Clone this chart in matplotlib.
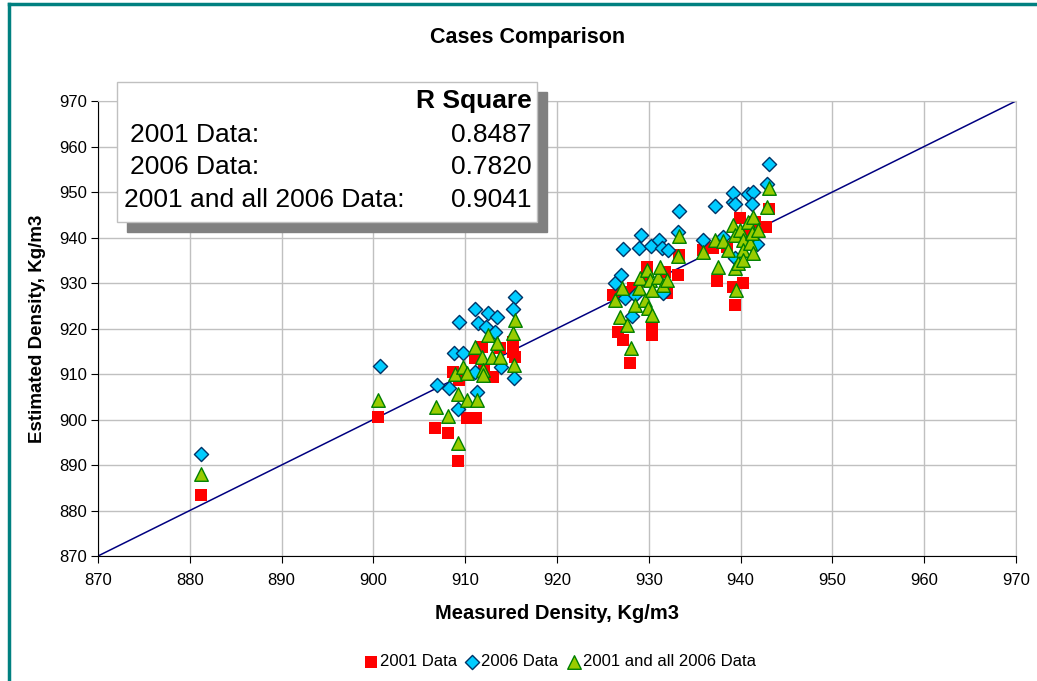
import numpy as np
from matplotlib import pyplot as plt
from matplotlib.lines import Line2D
from matplotlib.patches import Rectangle

plt.rcParams["font.family"] = ["Liberation Sans", "DejaVu Sans"]

# 2001 data (measured, estimated)
red_x = [881.2, 900.5, 906.7, 908.1, 909.2, 908.7, 909.3, 910.2, 911.2, 911.8, 911.1, 913.0,
         913.8, 915.2, 915.2, 915.4, 912.0, 926.1, 926.6, 927.2, 928.0, 930.3, 930.4, 929.8,
         931.8, 932.0, 928.3, 929.5, 927.0, 933.2, 933.3, 935.9, 937.0, 937.4, 938.5, 939.2,
         939.4, 939.9, 940.3, 940.5, 941.6, 942.8, 943.1]
red_y = [883.4, 900.5, 898.1, 897.0, 890.9, 910.4, 908.7, 900.3, 900.3, 915.9, 913.5, 909.3,
         915.7, 914.8, 917.0, 913.7, 911.0, 927.4, 919.2, 917.5, 912.4, 920.3, 918.6, 933.5,
         932.4, 927.8, 928.9, 930.5, 928.0, 931.8, 936.2, 937.3, 937.7, 930.4, 937.9, 929.1,
         925.2, 944.3, 930.0, 941.0, 943.4, 942.3, 946.3]

# 2006 data
blue_x = [881.2, 900.7, 906.9, 908.2, 909.3, 908.8, 909.8, 909.2, 911.3, 911.1, 912.5, 913.5,
          911.4, 912.3, 913.2, 915.4, 915.2, 913.9, 915.3, 911.1, 926.3, 927.0, 927.2, 928.2,
          927.4, 928.5, 928.9, 929.2, 930.2, 931.1, 931.4, 932.1, 931.5, 933.2, 933.3, 935.9,
          937.2, 938.1, 939.2, 939.2, 939.4, 939.4, 940.8, 941.4, 941.2, 941.2, 941.8, 942.9,
          943.1]
blue_y = [892.4, 911.8, 907.6, 906.9, 921.4, 914.6, 914.6, 902.3, 906.0, 924.3, 923.4, 922.5,
          921.2, 920.3, 919.2, 926.9, 924.3, 911.5, 909.1, 910.4, 930.0, 931.8, 937.5, 922.7,
          926.7, 927.4, 937.7, 940.5, 938.1, 939.5, 937.7, 937.3, 927.8, 941.2, 945.8, 939.5,
          946.9, 940.1, 947.8, 949.8, 947.4, 935.5, 949.6, 950.0, 947.4, 938.4, 938.6, 951.8,
          956.2]

# 2001 and all 2006 data
green_x = [881.2, 900.5, 906.8, 908.1, 909.2, 909.2, 908.9, 910.2, 911.3, 909.8, 910.2, 911.1,
           911.8, 911.9, 911.9, 912.5, 912.9, 913.5, 913.8, 915.2, 915.3, 915.4, 926.3, 926.9,
           927.1, 927.6, 928.1, 928.5, 928.9, 929.0, 929.6, 929.8, 929.9, 930.1, 930.3, 930.3,
           931.0, 931.2, 931.5, 932.0, 933.2, 933.3, 935.9, 937.2, 937.5, 938.1, 938.6, 939.2,
           939.4, 939.4, 939.5, 939.7, 939.9, 940.3, 940.3, 940.3, 940.8, 941.0, 941.2, 941.4,
           941.4, 941.9, 942.9, 943.1]
green_y = [888.0, 904.3, 902.7, 900.8, 894.8, 905.6, 910.0, 904.3, 904.3, 911.5, 910.2, 916.0,
           913.7, 910.9, 909.8, 918.6, 913.7, 916.8, 913.7, 919.0, 912.0, 921.9, 926.3, 922.5,
           928.9, 920.8, 915.7, 925.2, 928.9, 931.1, 926.3, 932.9, 924.5, 930.7, 928.5, 923.0,
           931.3, 933.5, 929.6, 930.7, 935.9, 940.3, 936.8, 939.5, 933.5, 939.2, 937.3, 942.7,
           940.5, 933.3, 928.5, 934.4, 941.6, 939.5, 937.3, 935.1, 943.4, 938.8, 941.0, 944.5,
           936.6, 941.6, 946.7, 950.9]

r_labels = ["2001 Data:", "2006 Data:", "2001 and all 2006 Data:"]
r_values = ["0.8487", "0.7820", "0.9041"]

fig = plt.figure(figsize=(10.37, 6.81), dpi=100)
ax = fig.add_axes([98 / 1037, 1 - 556 / 681, (1016 - 98) / 1037, (556 - 101) / 681])

ax.plot([870, 970], [870, 970], color="#000080", lw=1.1, zorder=2)
ax.scatter(red_x, red_y, marker="s", s=80, color="#ff0000", linewidths=0, zorder=3,
           label="2001 Data")
ax.scatter(blue_x, blue_y, marker="D", s=52, color="#00ccff", edgecolors="#003366",
           linewidths=1.0, zorder=4, label="2006 Data")
ax.scatter(green_x, green_y, marker="^", s=95, color="#99cc00", edgecolors="#008000",
           linewidths=1.0, zorder=5, label="2001 and all 2006 Data")

ax.set_xlim(870, 970)
ax.set_ylim(870, 970)
ax.set_xticks(np.arange(870, 971, 10))
ax.set_yticks(np.arange(870, 971, 10))
ax.grid(True, color="#c0c0c0", lw=1.0)
ax.set_axisbelow(True)
for s in ["top", "right"]:
    ax.spines[s].set_color("#c0c0c0")
for s in ["left", "bottom"]:
    ax.spines[s].set_color("black")
ax.tick_params(direction="out", length=5, labelsize=12)
ax.tick_params(axis="x", pad=7)
ax.tick_params(axis="y", pad=3)
fig.text(528 / 1037, 1 - 38 / 681, "Cases Comparison", fontsize=15.5, fontweight="bold",
         ha="center", va="center")
ax.set_xlabel("Measured Density, Kg/m3", fontsize=14.5, fontweight="bold", labelpad=12)
ax.set_ylabel("Estimated Density, Kg/m3", fontsize=13.5, fontweight="bold", labelpad=9)

# R square box with shadow
fig.patches.append(Rectangle((127 / 1037, 1 - 232 / 681), 420 / 1037, 140 / 681,
                             transform=fig.transFigure, color="#808080", zorder=10))
fig.patches.append(Rectangle((117 / 1037, 1 - 222 / 681), 420 / 1037, 140 / 681,
                             transform=fig.transFigure, facecolor="white",
                             edgecolor="#c0c0c0", lw=1, zorder=11))
fig.text(532 / 1037, 1 - 101 / 681, "R Square", fontsize=19, fontweight="bold",
         ha="right", va="center", zorder=12)
row_y = [135, 167, 200]
row_x = [130, 130, 124]
for lab, val, yy, xx in zip(r_labels, r_values, row_y, row_x):
    fig.text(xx / 1037, 1 - yy / 681, lab, fontsize=19, ha="left", va="center", zorder=12)
    fig.text(532 / 1037, 1 - yy / 681, val, fontsize=19, ha="right", va="center", zorder=12)

# teal frame
fig.lines.append(Line2D([9 / 1037, 9 / 1037], [0, 1 - 4 / 681], transform=fig.transFigure,
                        color="#008080", lw=2.5))
fig.lines.append(Line2D([9 / 1037, 1], [1 - 4 / 681, 1 - 4 / 681], transform=fig.transFigure,
                        color="#008080", lw=2.5))

fig.legend(loc="center", bbox_to_anchor=(560 / 1037, 1 - 662 / 681), ncol=3, frameon=False,
           fontsize=12, handlelength=0.8, handletextpad=0.15, columnspacing=0.5,
           borderpad=0)

fig.savefig("out.png", dpi=100)
